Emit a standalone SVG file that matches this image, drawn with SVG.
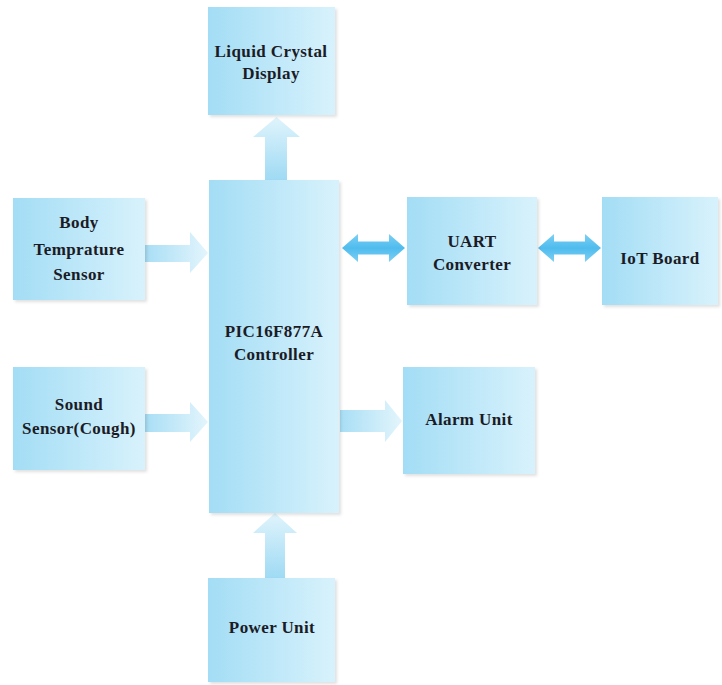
<svg xmlns="http://www.w3.org/2000/svg" width="722" height="685" viewBox="0 0 722 685">
<defs>
<linearGradient id="box" x1="0" y1="0" x2="1" y2="0">
<stop offset="0" stop-color="#a3ddf5"/>
<stop offset="1" stop-color="#d8f2fc"/>
</linearGradient>
<linearGradient id="arR" x1="0" y1="0" x2="1" y2="0">
<stop offset="0" stop-color="#a8def5"/>
<stop offset="1" stop-color="#e3f5fc"/>
</linearGradient>
<linearGradient id="arU" x1="0" y1="1" x2="0" y2="0">
<stop offset="0" stop-color="#9fdaf4"/>
<stop offset="1" stop-color="#e0f4fc"/>
</linearGradient>
<linearGradient id="arD" x1="0" y1="0" x2="0" y2="1">
<stop offset="0" stop-color="#7dd0f3"/>
<stop offset="0.5" stop-color="#4fbcee"/>
<stop offset="1" stop-color="#7dd0f3"/>
</linearGradient>
<filter id="sh" x="-10%" y="-10%" width="130%" height="130%">
<feDropShadow dx="2" dy="2" stdDeviation="1.5" flood-color="#000" flood-opacity="0.12"/>
</filter>
</defs>
<style>
.b{fill:url(#box);filter:url(#sh)}
.t{font-family:"Liberation Serif",serif;font-weight:bold;font-size:17px;letter-spacing:0.4px;fill:#1b1b26;text-anchor:middle}
</style>
<rect width="722" height="685" fill="#fff"/>
<g id="connectors">
<path d="M265,180 V137 H253 L276.5,117 L300,137 H287 V180 Z" fill="url(#arU)"/>
<path d="M265,578 V533 H253 L275,513 L297,533 H285 V578 Z" fill="url(#arU)"/>
<path d="M145,245 H190 V232 L208,253 L190,273 V262 H145 Z" fill="url(#arR)"/>
<path d="M145,414 H190 V402 L208,422 L190,442 V432 H145 Z" fill="url(#arR)"/>
<path d="M340,410 H385 V400 L402,421 L385,442 V432 H340 Z" fill="url(#arR)"/>
<path d="M342,248 L358,234 V241.5 H389 V234 L405,248 L389,262 V254.5 H358 V262 Z" fill="url(#arD)"/>
<path d="M538,248 L554,234 V241.5 H585 V234 L601,248 L585,262 V254.5 H554 V262 Z" fill="url(#arD)"/>
</g>
<g id="lcd"><rect class="b" x="208" y="7" width="127" height="108"/>
<text class="t" x="271" y="57">Liquid Crystal</text><text class="t" x="271" y="79">Display</text></g>
<g id="controller"><rect class="b" x="209" y="180" width="130" height="333"/>
<text class="t" x="274" y="337">PIC16F877A</text><text class="t" x="274" y="360">Controller</text></g>
<g id="body"><rect class="b" x="13" y="198" width="132" height="102"/>
<text class="t" x="79" y="228">Body</text><text class="t" x="79" y="255">Temprature</text><text class="t" x="79" y="280">Sensor</text></g>
<g id="sound"><rect class="b" x="13" y="367" width="132" height="103"/>
<text class="t" x="79" y="410">Sound</text><text class="t" x="79" y="434">Sensor(Cough)</text></g>
<g id="uart"><rect class="b" x="407" y="197" width="130" height="108"/>
<text class="t" x="472" y="247">UART</text><text class="t" x="472" y="270">Converter</text></g>
<g id="iot"><rect class="b" x="602" y="197" width="116" height="108"/>
<text class="t" x="660" y="264">IoT Board</text></g>
<g id="alarm"><rect class="b" x="403" y="367" width="132" height="107"/>
<text class="t" x="469" y="425">Alarm Unit</text></g>
<g id="power"><rect class="b" x="208" y="578" width="127" height="104"/>
<text class="t" x="272" y="633">Power Unit</text></g>
</svg>
